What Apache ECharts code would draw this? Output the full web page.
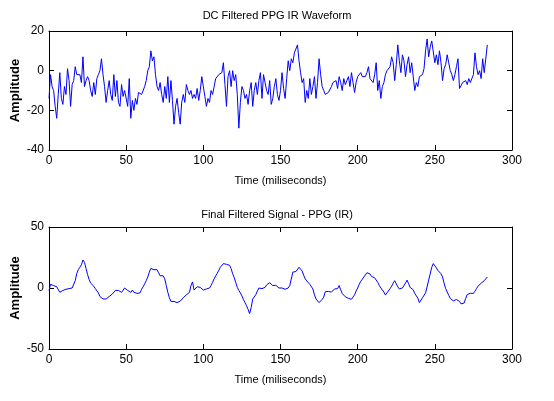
<!DOCTYPE html>
<html lang="en">
<head>
    <meta charset="utf-8">
    <title>PPG IR Waveform</title>
    <script src="https://cdn.jsdelivr.net/npm/echarts@6/dist/echarts.min.js"></script>
    <style>
        body { margin: 0; background: #fff; }
        #chart { width: 554px; height: 401px; }
    </style>
</head>
<body>
<div id="chart"></div>
<script type="application/javascript">
    // DC filtered signal, one sample per ms (0..284)
    var dcFiltered = [
        -14, -2, -8, -10, -18, -24, -12, -1, -14, -17,
        -8, -12, 1, -5, -18, -7, -5, 2, -2, -3,
        -2, -6, 7, -8, -5, -3, -5, -10, -13, -6,
        -12, -4, -2, 0, 6, -2, -8, -16, -10, -5,
        -12, -15, -2, -13, -5, -16, -18, -7, -13, -10,
        -9, -18, -4, -24, -15, -20, -14, -17, -11, -11,
        -12, -12, -8, -5, 0, 2, 10, 5, 7, -2,
        -8, -10, -6, -12, -16, -8, -14, -3, -16, -5,
        -15, -27, -18, -14, -21, -27, -16, -12, -16, -7,
        -10, -12, -10, -14, -12, -14, -9, -15, -10, -3,
        -8, -13, -18, -14, -16, -10, -12, -8, -4, -5,
        -2, -3, -1, 4, -7, -18, -3, 0, -8, 0,
        -5, -2, -12, -29, -16, -8, -10, -14, -12, -17,
        -10, -6, -18, -10, -6, -12, -5, -1, -14, -2,
        -6, -10, -12, -5, -17, -14, -8, -4, -12, -15,
        -10, -1, -9, -14, -4, 5, 0, 6, 4, 9,
        10, 13, 5, -1, -6, -4, -16, -10, -14, -4,
        -12, -8, -3, -14, -6, 6, -2, -8, -10, -12,
        -12, -11, -10, -8, -6, -7, -5, -9, -3, -6,
        -10, -4, -7, -5, -3, -8, -1, -6, -11, -6,
        -3, -4, -1, -3, -2, -3, -1, 2, -4, -3,
        -6, -2, 4, -10, -5, -14, -8, -6, -2, 0,
        0, 2, 7, 4, -5, 3, 13, 5, -1, 8,
        5, -3, 3, 7, -1, 4, -3, -10, -6, -8,
        -3, -4, -2, 1, 10, 16, 7, 12, 15, 14,
        4, 8, 3, 10, 4, -5, 1, 3, 8, 4,
        0, -2, -5, -2, 2, 6, -9, -8, -6, -7,
        -5, -7, -4, -6, -5, -2, 9, 2, -2, 0,
        -4, 6, -1, -2, 13
    ];

    // final filtered signal
    var finalFiltered = [
        -2, 3, 3, 2, 1.5, 1, 0, -3.5, -3, -2,
        -2, -1, -1.7, -0.5, 0.5, 0, 1, 6, 12, 15,
        17, 19, 23, 21, 16, 11, 7, 4, 3, 1.5,
        -0.5, -2, -4, -7, -8.5, -9, -8.6, -9, -8.3, -7,
        -6, -5, -4, -2, -3, -2, -3, -3.6, -2, 0,
        -1, -2, -3, -3.6, -1.7, -3.5, -4.2, -4.4, -5, -4,
        -1, 1, 3.5, 6, 9, 13, 16, 14.5, 15, 13.5,
        15, 12.5, 10, 9.5, 10, 7.5, 2, -3.6, -8, -11,
        -11.4, -11, -11.8, -12, -11.5, -10.8, -10, -8, -6.4, -5.6,
        -5.8, -3.6, 2, 5, -1.7, -1, 1, 2, 0.5, -1,
        -1.7, -1.7, -0.8, -1.7, 0, 2, 4.7, 7.5, 10, 12,
        14.5, 17, 18.5, 20, 20, 19.4, 21, 18.6, 15.8, 11.7,
        8.5, 4.5, 0.5, -2, -4, -6.5, -9.5, -12, -14.5, -17.5,
        -21, -16, -9, -7.5, -5.5, -2.5, 0, -1, -0.5, -0.8,
        0.5, 2.5, 4, 4.4, 3.3, 2, 2.8, 2.2, 1, 0,
        -1.2, 0, -1.5, -1, -0.5, 0, 2, 3.3, 13, 13,
        13.5, 15, 17, 16.5, 14, 10.5, 7.5, 5.8, 5, 3,
        2, -0.8, -5.6, -9, -10.5, -12, -10.8, -9.3, -7.5, -3,
        -3, -2.8, -3, -3.4, -2.2, -0.8, -2, -0.5, 2, -1.5,
        -4.5, -5.6, -7.2, -8.8, -8.5, -9, -9.2, -8.3, -5.6, -2.5,
        0, 3, 5.5, 7.2, 9, 10.5, 12.5, 12.8, 11.5, 9.5,
        8.3, 8.3, 7.2, 4.7, 2.2, 0, -1.5, -3.3, -5.8, -4,
        -2.5, -0.5, 1.5, 4, 6, 4.7, 1, -0.8, 0, 0,
        1.5, 4, 6.5, 3.5, 0.5, 0.5, -1.5, -4.5, -5.6, -8.3,
        -12, -11, -8, -6.5, -4, 1, 6.5, 11.5, 17, 20,
        19, 16.5, 14.4, 13, 11.7, 9, 4, -0.5, -3.2, -6,
        -8.6, -10, -10.6, -9.6, -9.4, -10.6, -11, -13, -14, -12.3,
        -8.5, -5.3, -3.8, -4.4, -5.5, -4.4, -2.6, -0.5, 1.5, 2,
        3.9, 4.7, 6, 6.7, 9
    ];

    var xTicks = [0, 50, 100, 150, 200, 250, 300];
    var topYTicks = [-40, -20, 0, 20];
    var bottomYTicks = [-50, 0, 50];

    var titles = ['DC Filtered PPG IR Waveform', 'Final Filtered Signal - PPG (IR)'];
    var xName = 'Time (miliseconds)';
    var yName = 'Amplitude';

    var font = 'Liberation Sans, Arial, sans-serif';

    function toPairs(values) {
        var out = [];
        for (var i = 0; i < values.length; i++) {
            out.push([i, values[i]]);
        }
        return out;
    }

    function xAxisFor(gridIndex, position, withLabels) {
        return {
            type: 'value',
            gridIndex: gridIndex,
            position: position,
            min: xTicks[0],
            max: xTicks[xTicks.length - 1],
            interval: xTicks[1] - xTicks[0],
            name: withLabels ? xName : '',
            nameLocation: 'middle',
            nameGap: 25,
            nameMoveOverlap: false,
            nameTextStyle: { color: '#000', fontSize: 11, fontFamily: font },
            axisLine: { show: true, onZero: false, lineStyle: { color: '#000', width: 1 } },
            axisTick: { show: true, inside: true, length: 5, lineStyle: { color: '#000' } },
            axisLabel: { show: withLabels, color: '#000', fontSize: 12, fontFamily: font, margin: 5 },
            splitLine: { show: false }
        };
    }

    function yAxisFor(gridIndex, position, ticks, withLabels) {
        return {
            type: 'value',
            gridIndex: gridIndex,
            position: position,
            min: ticks[0],
            max: ticks[ticks.length - 1],
            interval: ticks[1] - ticks[0],
            name: withLabels ? yName : '',
            nameLocation: 'middle',
            nameGap: 27,
            nameMoveOverlap: false,
            nameTextStyle: { color: '#000', fontSize: 13, fontWeight: 'bold', fontFamily: font },
            axisLine: { show: true, onZero: false, lineStyle: { color: '#000', width: 1 } },
            axisTick: { show: true, inside: true, length: 5, lineStyle: { color: '#000' } },
            axisLabel: { show: withLabels, color: '#000', fontSize: 12, fontFamily: font, margin: 5 },
            splitLine: { show: false }
        };
    }

    function initChart() {
        var chart = echarts.init(document.getElementById('chart'), null, { renderer: 'canvas' });
        chart.setOption({
            animation: false,
            backgroundColor: '#fff',
            title: [
                { text: titles[0], left: 'center', top: 5, textStyle: { fontSize: 11, fontWeight: 'normal', color: '#000', fontFamily: font } },
                { text: titles[1], left: 'center', top: 204, textStyle: { fontSize: 11, fontWeight: 'normal', color: '#000', fontFamily: font } }
            ],
            grid: [
                { left: 49, top: 31, width: 463, height: 119, outerBoundsMode: 'none' },
                { left: 49, top: 227, width: 463, height: 122, outerBoundsMode: 'none' }
            ],
            xAxis: [
                xAxisFor(0, 'bottom', true),
                xAxisFor(0, 'top', false),
                xAxisFor(1, 'bottom', true),
                xAxisFor(1, 'top', false)
            ],
            yAxis: [
                yAxisFor(0, 'left', topYTicks, true),
                yAxisFor(0, 'right', topYTicks, false),
                yAxisFor(1, 'left', bottomYTicks, true),
                yAxisFor(1, 'right', bottomYTicks, false)
            ],
            series: [
                {
                    type: 'line',
                    xAxisIndex: 0,
                    yAxisIndex: 0,
                    data: toPairs(dcFiltered),
                    showSymbol: false,
                    lineStyle: { color: '#0000ff', width: 1 }
                },
                {
                    type: 'line',
                    xAxisIndex: 2,
                    yAxisIndex: 2,
                    data: toPairs(finalFiltered),
                    showSymbol: false,
                    lineStyle: { color: '#0000ff', width: 1 }
                }
            ]
        });
    }

    initChart();
</script>
</body>
</html>
